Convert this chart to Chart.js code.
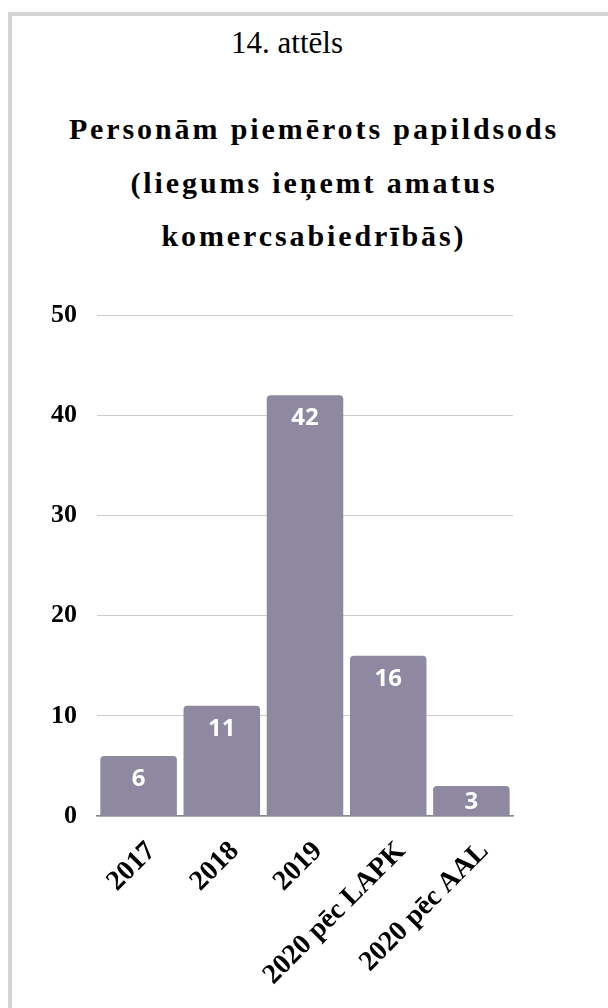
<!DOCTYPE html>
<html>
<head>
<meta charset="utf-8">
<script src="https://cdn.jsdelivr.net/npm/chart.js@4"></script>
<style>
  html, body { margin: 0; padding: 0; background: #fff; }
  body { width: 608px; height: 1008px; position: relative; overflow: hidden; }
  .card {
    position: absolute; left: 8px; top: 12px; right: -10px; bottom: -10px;
    border-left: 4px solid #d4d4d4; border-top: 4px solid #d4d4d4;
  }
  .fig {
    position: absolute; left: 0; width: 574px; top: 25px;
    text-align: center; font-family: "Liberation Serif", serif; font-size: 31px; color: #000;
  }
  .title {
    position: absolute; left: 14px; width: 600px; top: 102px;
    text-align: center; font-family: "Liberation Serif", serif; font-weight: bold;
    font-size: 30px; line-height: 53.5px; letter-spacing: 2.9px; color: #000;
  }
  canvas { position: absolute; left: 0; top: 0; }
</style>
</head>
<body>
<div class="card"></div>
<div class="fig">14. attēls</div>
<div class="title">Personām piemērots papildsods<br>(liegums ieņemt amatus<br>komercsabiedrībās)</div>
<canvas id="chart" width="608" height="1008"></canvas>
<script>
const categories = ["2017", "2018", "2019", "2020 pēc LAPK", "2020 pēc AAL"];
const values = [6, 11, 42, 16, 3];
const yTicks = [0, 10, 20, 30, 40, 50];

const barColor = "#8e89a1";

// white value labels near the top of each bar
const valueLabels = {
  id: "valueLabels",
  afterDatasetsDraw(chart) {
    const ctx = chart.ctx;
    const meta = chart.getDatasetMeta(0);
    ctx.save();
    ctx.fillStyle = "#ffffff";
    ctx.font = "bold 24px 'Open Sans'";
    ctx.textAlign = "center";
    ctx.textBaseline = "middle";
    meta.data.forEach((bar, i) => {
      const top = bar.y, base = bar.base;
      const y = Math.min(top + 23, (top + base) / 2 + 1);
      ctx.fillText(String(values[i]), bar.x, y);
    });
    ctx.restore();
  }
};

new Chart(document.getElementById("chart").getContext("2d"), {
  type: "bar",
  data: {
    labels: categories,
    datasets: [{
      data: values,
      backgroundColor: barColor,
      borderRadius: { topLeft: 4, topRight: 4, bottomLeft: 0, bottomRight: 0 },
      borderSkipped: "bottom",
      barPercentage: 0.92,
      categoryPercentage: 1.0
    }]
  },
  options: {
    responsive: false,
    animation: false,
    layout: { padding: { top: 315, right: 95, bottom: 0, left: 0 } },
    plugins: { legend: { display: false }, tooltip: { enabled: false } },
    scales: {
      x: {
        afterFit(scale) { scale.height = 192; },
        grid: { display: false, drawTicks: false },
        border: { display: true, color: "#8a8698", width: 1.5 },
        ticks: {
          color: "#000",
          font: { family: "'Liberation Serif'", size: 28, weight: "bold" },
          maxRotation: 45, minRotation: 45, padding: 19, labelOffset: 13
        }
      },
      y: {
        min: 0, max: 50,
        afterFit(scale) { scale.width = 97; },
        afterBuildTicks(scale) { scale.ticks = yTicks.map(v => ({ value: v })); },
        grid: { color: "#cccccc", drawTicks: false, lineWidth: 1 },
        border: { display: false },
        ticks: {
          color: "#000",
          font: { family: "'Liberation Serif'", size: 26, weight: "bold" },
          padding: 20
        }
      }
    }
  },
  plugins: [valueLabels]
});
</script>
</body>
</html>
